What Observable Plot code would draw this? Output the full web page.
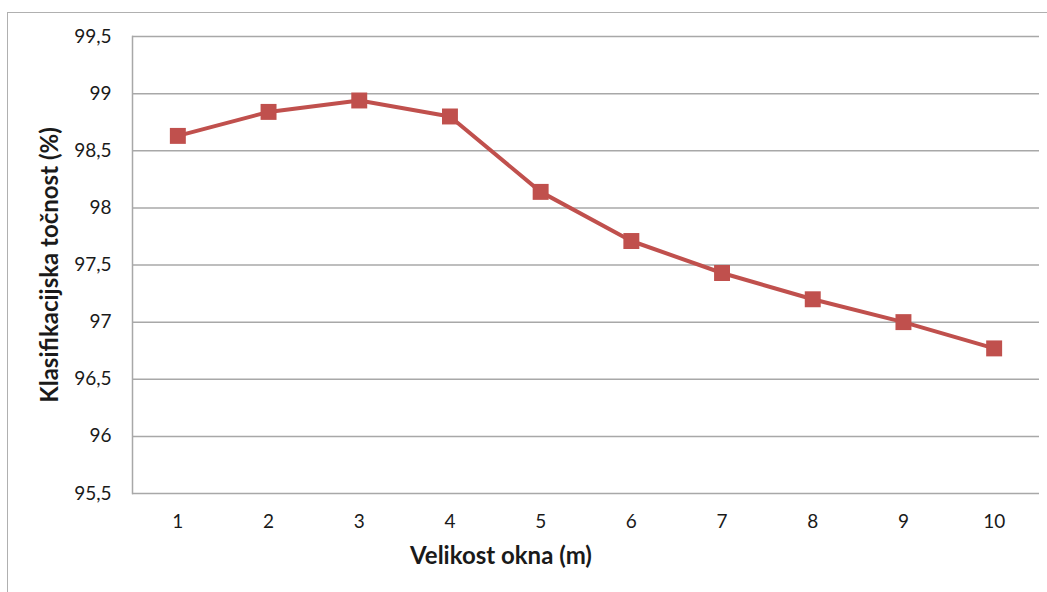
<!DOCTYPE html>
<html>
<head>
<meta charset="utf-8">
<script src="https://cdn.jsdelivr.net/npm/d3@7"></script>
<script src="https://cdn.jsdelivr.net/npm/@observablehq/plot@0.6"></script>
<style>
  html, body { margin: 0; padding: 0; background: #fff; overflow: hidden; }
  #wrap { position: relative; width: 1047px; height: 592px; }
  #frame { position: absolute; left: 7px; top: 12px; width: 1200px; height: 800px; border: 1.5px solid #b0b0b0; box-sizing: border-box; }
  #chart { position: absolute; left: 0; top: 0; }
</style>
</head>
<body>
<div id="wrap"><div id="frame"></div><div id="chart"></div></div>
<script>
const windows = [1, 2, 3, 4, 5, 6, 7, 8, 9, 10];
const accuracy = [98.63, 98.84, 98.94, 98.80, 98.14, 97.71, 97.43, 97.20, 97.00, 96.77];
const yTicks = [95.5, 96, 96.5, 97, 97.5, 98, 98.5, 99, 99.5];
const xTitle = "Velikost okna (m)";
const yTitle = "Klasifikacijska točnost (%)";

const data = windows.map((w, i) => ({w, acc: accuracy[i]}));
const fmt = d => String(d).replace(".", ",");
const red = "#C0504D";
const grid = "#a8a8a8";

const chart = Plot.plot({
  width: 1047,
  height: 592,
  marginLeft: 132,
  marginRight: 8,
  marginTop: 36,
  marginBottom: 99,
  style: {fontFamily: "Lato, 'Noto Sans', sans-serif", fontSize: "19px", color: "#1a1a1a", background: "transparent"},
  x: {type: "point", domain: windows, padding: 0.5, round: false, label: null},
  y: {domain: [95.5, 99.5], label: null},
  marks: [
    Plot.gridY(yTicks, {stroke: grid, strokeOpacity: 1, strokeWidth: 1.5}),
    Plot.frame({anchor: "left", stroke: grid, strokeWidth: 1.5}),
    Plot.axisY(yTicks, {tickSize: 0, tickPadding: 21, tickFormat: fmt, fontSize: 19}),
    Plot.axisX(windows, {tickSize: 0, tickPadding: 21, fontSize: 19}),
    Plot.line(data, {x: "w", y: "acc", stroke: red, strokeWidth: 4}),
    Plot.dot(data, {x: "w", y: "acc", symbol: "square", r: 9, fill: red, stroke: null}),
    Plot.text([xTitle], {frameAnchor: "bottom", text: d => d, dy: 70, dx: -85, textAnchor: "middle", fontWeight: "bold", fontSize: 24, fill: "#1a1a1a"}),
    Plot.text([yTitle], {frameAnchor: "left", text: d => d, dx: -82, textAnchor: "middle", rotate: -90, fontWeight: "bold", fontSize: 24, fill: "#1a1a1a"})
  ]
});
document.getElementById("chart").appendChild(chart);
</script>
</body>
</html>
